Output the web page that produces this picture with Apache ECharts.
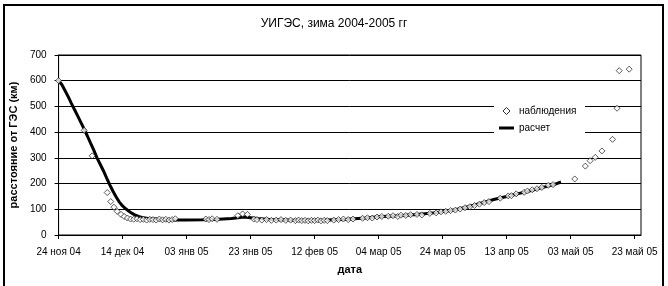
<!DOCTYPE html>
<html><head><meta charset="utf-8">
<script src="https://cdn.jsdelivr.net/npm/echarts@6/dist/echarts.min.js"></script>
<style>html,body{margin:0;padding:0;background:#fff}#c{width:668px;height:286px}</style>
</head><body><div id="c"></div>
<script>
// x values are days since 24 Nov 2004
const tickDays = [0,20,40,60,80,100,120,140,160,180];
const tickLabels = ['24 ноя 04','14 дек 04','03 янв 05','23 янв 05','12 фев 05','04 мар 05','24 мар 05','13 апр 05','03 май 05','23 май 05'];
const yTicks = [0,100,200,300,400,500,600,700];

const obsDays = [0,8,10.5,15.2,16.3,17.3,18.3,19.5,20.5,21.5,22.5,23.5,24.5,25.5,26.5,27.5,28.5,29.5,30.5,31.5,32.5,33.5,34.5,35.5,36.5,
  46,47,48,49.5,56,57.5,59,61,62,63.5,65,66.5,68,69.5,71,72.5,74,75,76,77,78,79,80,81,82,83,84,86,87.5,89,90.5,92,
  95,96.5,98,99.5,101,103,104.5,106,107,108.5,110,112,113.5,116,118,119.5,121,122.5,124,125.5,127,128.5,130,131.5,133,134.5,
  138,140.5,141.5,143,145.5,146.5,148,149.5,151,153,154.5,161.3,164.6,166.1,167.7,169.8,173.1,174.5,175.2,178.3];
const obsValues = [600,407,308,165,130,108,92,80,72,66,62,61,63,60,61,58,61,60,58,62,59,61,58,60,63,
  62,60,63,61,75,82,80,62,60,58,60,57,58,60,57,58,56,58,56,57,55,57,56,58,55,57,56,58,60,62,60,62,
  65,67,66,70,72,73,75,72,77,76,79,80,78,84,86,90,92,95,97,101,106,110,115,120,126,130,
  143,152,153,160,166,171,176,180,185,193,196,218,268,289,302,327,372,493,639,645];

const calcDays = [0,1,2,3,4,5,6,7,8,9,10,11,12,13,14,15,16,17,18,19,20,21,22,23,24,25,26,28,32,36,40,45,50,54,58,62,66,72,78,84,90,96,100,106,112,118,124,128,132,136,140,144,148,152,155,157];
const calcValues = [600,585,562,538,512,487,462,437,412,385,357,330,300,275,250,222,195,170,148,128,113,102,92,84,77,72,68,64,60,58,58,59,61,64,70,64,60,58,57,58,61,66,71,75,80,87,98,110,124,138,150,162,174,187,197,206];

const FONT = 'Liberation Sans, Arial, sans-serif';
const obsData = obsDays.map((d, i) => [d, obsValues[i]]);
const calcData = calcDays.map((d, i) => [d, calcValues[i]]);

const chart = echarts.init(document.getElementById('c'), null, {renderer: 'canvas'});
chart.setOption({
  backgroundColor: '#fff',
  animation: false,
  textStyle: {fontFamily: FONT, color: '#000'},
  title: {
    text: 'УИГЭС, зима 2004-2005 гг',
    left: 'center', top: 13,
    textStyle: {fontFamily: FONT, fontSize: 12, fontWeight: 'normal', color: '#000'}
  },
  graphic: [
    {type: 'rect', z: -10, shape: {x: 4, y: 5, width: 659, height: 300}, style: {fill: 'none', stroke: '#000', lineWidth: 2}},
    {type: 'rect', z: 50, shape: {x: 494, y: 100, width: 91, height: 39}, style: {fill: '#fff'}}
  ],
  legend: {
    orient: 'vertical', left: 494, top: 100, z: 60,
    padding: [5, 8, 5, 5],
    itemWidth: 15, itemHeight: 7, itemGap: 5,
    textStyle: {fontFamily: FONT, fontSize: 10, color: '#000', lineHeight: 12},
    data: [
      {name: 'наблюдения', icon: 'path://M5,0 L10,5 L5,10 L0,5 Z', itemStyle: {color: '#fff', borderColor: '#000', borderWidth: 1}},
      {name: 'расчет', icon: 'path://M0,0 L15,0 L15,3 L0,3 Z', itemStyle: {color: '#000', borderWidth: 0}}
    ]
  },
  grid: {left: 53, right: 27, top: 55, bottom: 51, show: true, borderColor: '#000', borderWidth: 1, backgroundColor: 'transparent'},
  xAxis: {
    type: 'value', min: 0, max: 182, interval: 20,
    name: 'дата', nameLocation: 'middle', nameGap: 29,
    nameTextStyle: {fontFamily: FONT, fontSize: 11, fontWeight: 'bold', color: '#000'},
    axisLine: {show: true, lineStyle: {color: '#000', width: 1}},
    axisTick: {show: true, inside: false, length: 4, lineStyle: {color: '#000'}, customValues: tickDays},
    axisLabel: {
      fontFamily: FONT, fontSize: 10, color: '#000', margin: 12,
      customValues: tickDays,
      formatter: v => { const i = tickDays.indexOf(v); return i >= 0 ? tickLabels[i] : ''; }
    },
    splitLine: {show: false}
  },
  yAxis: {
    type: 'value', min: 0, max: 700, interval: 100,
    name: 'расстояние от ГЭС (км)', nameLocation: 'middle', nameGap: 30,
    nameTextStyle: {fontFamily: FONT, fontSize: 11, fontWeight: 'bold', color: '#000'},
    axisLine: {show: true, lineStyle: {color: '#000', width: 1}},
    axisTick: {show: true, inside: false, length: 4, lineStyle: {color: '#000'}},
    axisLabel: {fontFamily: FONT, fontSize: 10, color: '#000', margin: 12,
      formatter: v => yTicks.includes(v) ? String(v) : ''},
    splitLine: {show: true, lineStyle: {color: '#000', width: 1, type: 'solid'}}
  },
  series: [
    {
      name: 'расчет', type: 'line', data: calcData, z: 3,
      showSymbol: false, symbol: 'none',
      lineStyle: {color: '#000', width: 3},
      itemStyle: {color: '#000'}
    },
    {
      name: 'наблюдения', type: 'scatter', data: obsData, z: 4,
      symbol: 'diamond', symbolSize: 6,
      itemStyle: {color: '#fff', borderColor: '#000', borderWidth: 0.8}
    }
  ]
});
</script>
</body></html>
